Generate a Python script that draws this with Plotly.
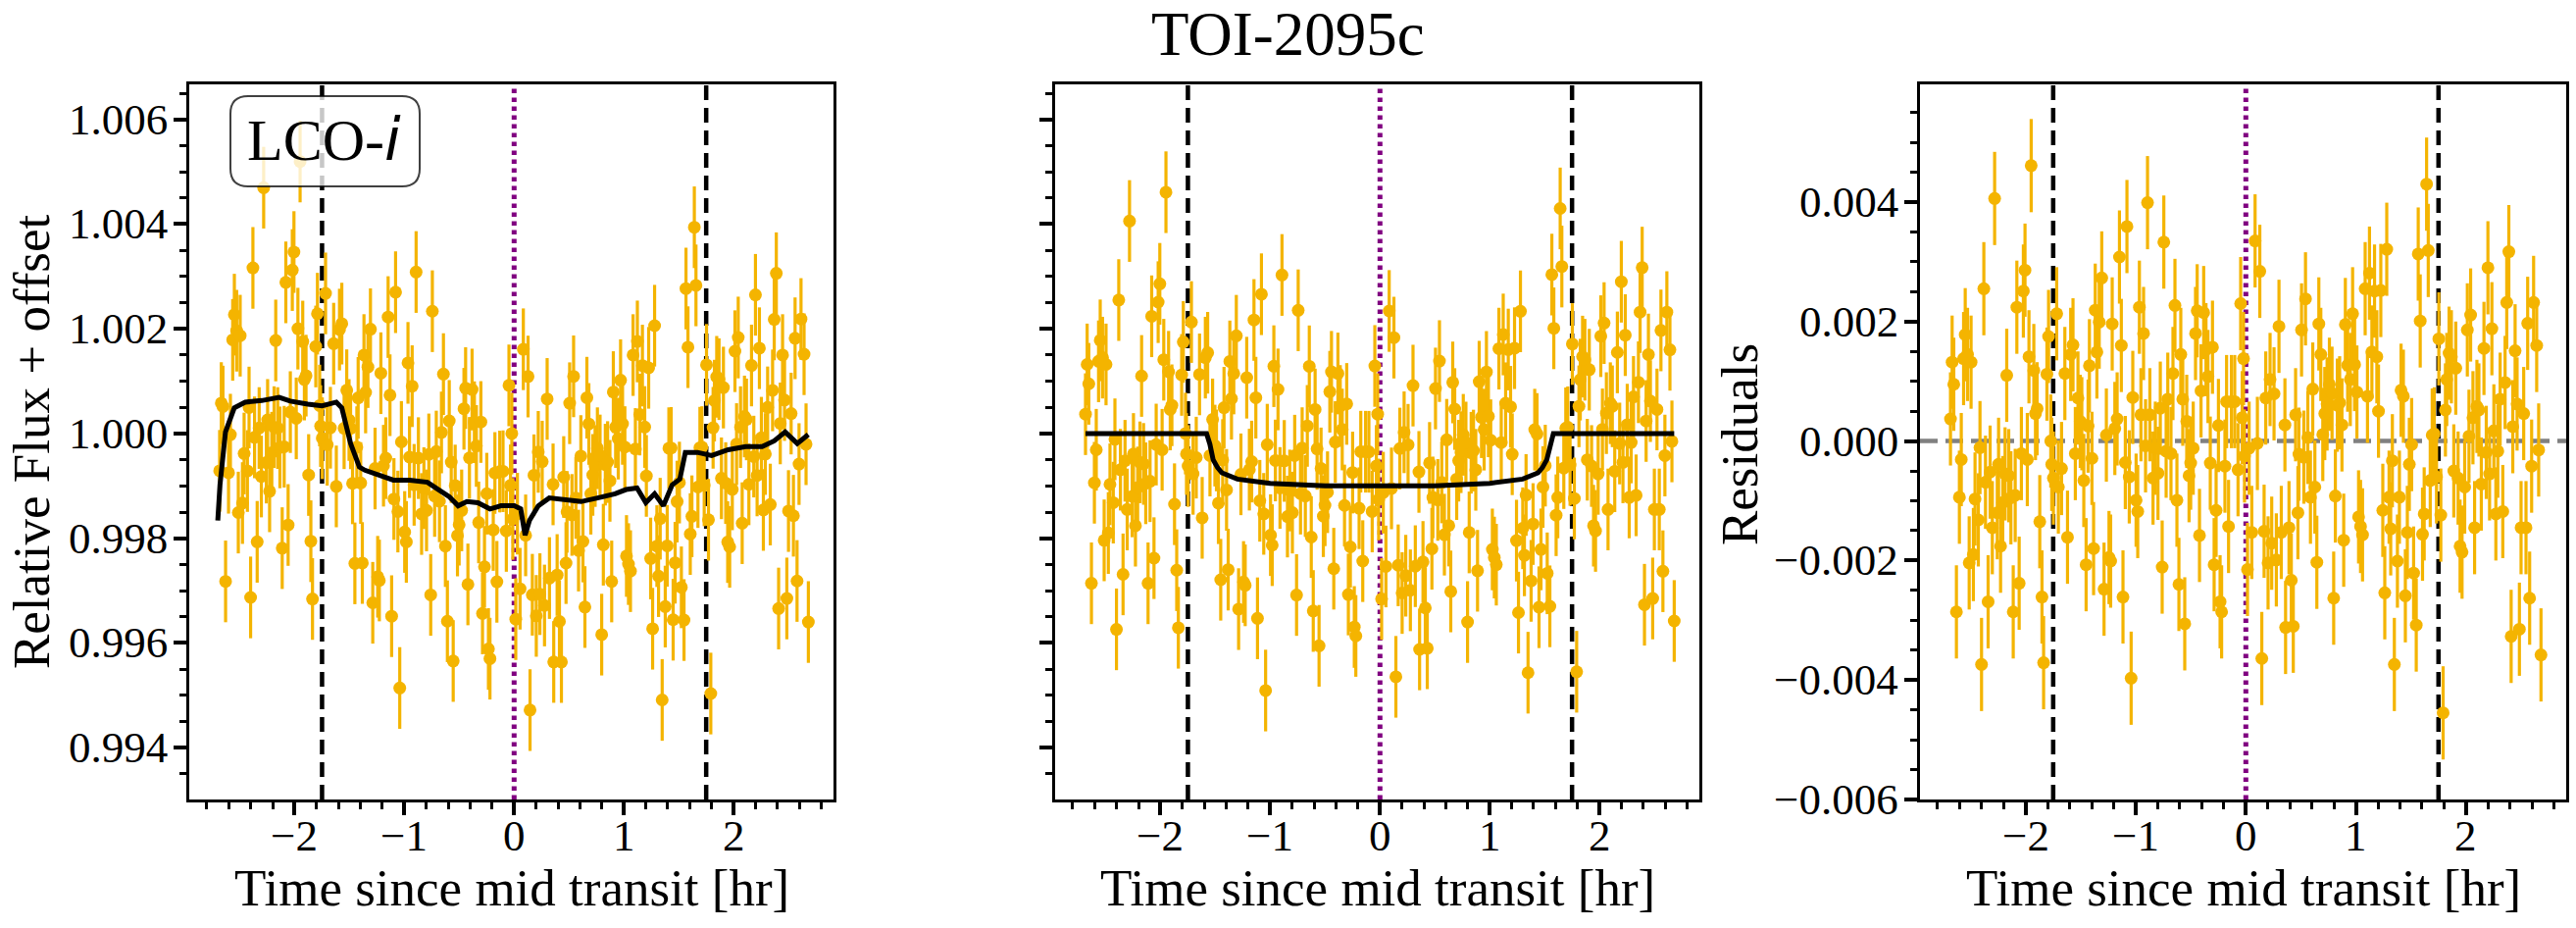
import numpy as np
import plotly.graph_objects as go

# ---- data ----
# time since mid transit [hr]
time_hr = [
    -2.683, -2.668, -2.653, -2.629, -2.602, -2.585, -2.564, -2.549, -2.528, -2.513,
    -2.496, -2.475, -2.460, -2.430, -2.415, -2.401, -2.380, -2.365, -2.341, -2.323,
    -2.303, -2.282, -2.258, -2.246, -2.228, -2.208, -2.187, -2.172, -2.154, -2.134,
    -2.113, -2.095, -2.080, -2.059, -2.039, -2.021, -2.006, -1.985, -1.970, -1.950,
    -1.926, -1.911, -1.896, -1.872, -1.852, -1.837, -1.807, -1.792, -1.772, -1.763,
    -1.748, -1.718, -1.703, -1.674, -1.644, -1.620, -1.591, -1.570, -1.549, -1.525,
    -1.504, -1.490, -1.472, -1.451, -1.433, -1.421, -1.398, -1.383, -1.368, -1.353,
    -1.332, -1.309, -1.288, -1.267, -1.243, -1.228, -1.214, -1.190, -1.169, -1.148,
    -1.131, -1.116, -1.095, -1.080, -1.059, -1.042, -1.027, -0.997, -0.982, -0.967,
    -0.953, -0.929, -0.911, -0.893, -0.872, -0.843, -0.822, -0.798, -0.777, -0.760,
    -0.745, -0.724, -0.709, -0.680, -0.662, -0.644, -0.626, -0.608, -0.591, -0.573,
    -0.555, -0.537, -0.516, -0.501, -0.478, -0.457, -0.442, -0.421, -0.407, -0.383,
    -0.362, -0.344, -0.323, -0.303, -0.288, -0.270, -0.249, -0.234, -0.220, -0.190,
    -0.175, -0.157, -0.131, -0.101, -0.071, -0.047, -0.033, -0.021, -0.012,
    0.015, 0.030, 0.054, 0.084, 0.105, 0.127, 0.145, 0.166, 0.181, 0.202,
    0.220, 0.235, 0.256, 0.277, 0.301, 0.322, 0.355, 0.361, 0.392, 0.413,
    0.431, 0.452, 0.473, 0.482, 0.506, 0.527, 0.542, 0.563, 0.587, 0.608,
    0.627, 0.645, 0.663, 0.681, 0.699, 0.717, 0.738, 0.759, 0.783, 0.798,
    0.813, 0.831, 0.852, 0.873, 0.889, 0.904, 0.925, 0.949, 0.970, 0.988,
    1.009, 1.024, 1.042, 1.060, 1.084, 1.105, 1.123, 1.145, 1.169, 1.190,
    1.205, 1.226, 1.244, 1.262, 1.280, 1.301, 1.316, 1.331, 1.349, 1.377,
    1.395, 1.410, 1.431, 1.449, 1.467, 1.485, 1.506, 1.524, 1.548, 1.566,
    1.584, 1.605, 1.620, 1.642, 1.657, 1.675, 1.693, 1.711, 1.732, 1.753,
    1.771, 1.792, 1.813, 1.825, 1.846, 1.867, 1.889, 1.907, 1.928, 1.946,
    1.964, 1.988, 2.012, 2.027, 2.042, 2.063, 2.078, 2.099, 2.117, 2.139,
    2.163, 2.184, 2.199, 2.214, 2.235, 2.253, 2.271, 2.289, 2.310, 2.334,
    2.355, 2.370, 2.389, 2.410, 2.425, 2.446, 2.464, 2.485, 2.500, 2.524,
    2.545, 2.560, 2.578, 2.596, 2.614, 2.642, 2.660, 2.681,
]

# residuals (data - full model), parts per thousand
resid_ppt = [
    0.37, 1.32, 0.95, -2.86, -0.94, -0.31, 1.38, 1.78, 1.45, -2.04,
    1.32, -1.90, -0.97, -1.32, -0.11, -3.74, 2.55, -0.69, -2.69, -0.52,
    -1.45, 4.06, -1.20, -0.39, -1.76, -1.03, -0.55, 1.10, -0.58, -0.95,
    -2.86, -0.91, 2.24, -2.38, -0.21, 2.51, 2.86, -0.31, 1.41, 4.61,
    1.18, 0.46, 0.54, -1.35, -2.61, -3.71, 1.12, 1.75, 0.00, -0.39,
    -0.62, 2.13, -0.77, -0.46, 1.13, -1.61, 1.45, 1.61, -0.21, 0.72,
    0.33, 0.29, -0.66, -2.07, 0.25, 1.26, -0.29, -1.80, 2.19, 1.49,
    1.99, 2.73, -2.48, 0.10, -1.95, -2.01, 1.96, 0.21, 0.37, 3.08,
    1.60, -2.61, -0.36, 3.59, -0.60, -3.97, 0.73, -0.99, -1.18, 2.24,
    0.44, 1.80, -0.08, 3.99, 0.44, -0.62, -0.12, -0.54, 0.55, -2.11,
    3.33, -0.17, 0.70, -0.21, 1.13, 2.27, -0.99, -2.40, 1.45, 0.70,
    -3.06, 0.33, -0.58, -0.37, -0.12, 1.80, 2.18, -1.58, 0.84, 2.15,
    1.53, 1.08, -0.37, 1.57, -2.07, -1.16, 0.26, -2.69, -2.86, -0.42,
    0.66, -1.43, 0.66, 0.66, -0.48, 2.30, 0.39, 1.38, -0.25,
    -2.15, -0.12, -1.53, 3.35, -0.04, 2.84, -3.64, -1.51, 0.72, -2.04,
    1.03, -1.71, 0.79, -1.99, 1.92, -1.53, 0.27, -3.12, -1.45, -2.33,
    -3.10, 0.44, -1.20, -0.22, 1.86, -0.27, 2.38, 0.06, -0.94, 0.87,
    -0.77, -2.03, 1.96, 1.45, 0.11, 0.46, 0.62, 0.95, 0.80, -2.63,
    -0.92, 0.60, 0.64, 0.27, -1.66, 1.95, 1.27, 1.03, 2.13, 1.28,
    0.82, -1.27, -1.43, -1.57, 2.55, 0.75, 2.81, 1.49, 2.51, 1.41,
    0.50, 2.52, -1.16, -2.54, 3.21, -0.94, -1.47, -0.33, -3.74, -2.01,
    -0.94, 0.85, 0.75, -2.59, -1.53, -0.39, -0.06, -2.21, -3.08, 3.13,
    2.01, -1.56, -1.22, 4.30, 3.19, -0.66, 0.10, 0.12, -0.60, 1.71,
    -1.24, -4.55, 0.52, 1.03, 1.47, 1.41, -0.50, 1.22, -0.62, -1.76,
    -1.86, -0.77, 1.86, 0.08, 2.11, 0.39, -1.45, 0.58, 0.52, -0.72,
    1.55, -0.19, 2.90, -0.55, 1.88, 0.17, -1.22, -0.17, 0.70, -1.18,
    0.98, 2.32, 3.17, -3.27, 0.24, 1.51, 0.62, -3.15, -1.45, 0.46,
    -1.45, 1.97, -2.63, -0.42, 2.32, 1.60, -0.15, -3.58,
]
flux_err = 0.00078

# full model (trend + transit), black line in the left panel
model_t = [-2.70, -2.68, -2.63, -2.55, -2.45, -2.30, -2.14, -2.04, -1.88, -1.75,
           -1.62, -1.57, -1.49, -1.41, -1.36, -1.21, -1.10, -0.95, -0.79, -0.69,
           -0.59, -0.51, -0.43, -0.33, -0.22, -0.12, 0.00, 0.06, 0.10, 0.14,
           0.22, 0.32, 0.45, 0.61, 0.76, 0.92, 1.02, 1.12, 1.20, 1.28,
           1.36, 1.44, 1.51, 1.56, 1.67, 1.80, 1.95, 2.11, 2.26, 2.37,
           2.47, 2.58, 2.68]
model_flux = [0.99834, 0.99902, 1.00003, 1.00049, 1.00060, 1.00063, 1.00069, 1.00062, 1.00056, 1.00053,
              1.00060, 1.00049, 0.99981, 0.99936, 0.99930, 0.99919, 0.99911, 0.99911, 0.99907, 0.99893,
              0.99879, 0.99862, 0.99870, 0.99868, 0.99856, 0.99862, 0.99862, 0.99856, 0.99806, 0.99834,
              0.99862, 0.99877, 0.99873, 0.99870, 0.99877, 0.99885, 0.99893, 0.99896, 0.99868, 0.99885,
              0.99862, 0.99902, 0.99913, 0.99964, 0.99964, 0.99958, 0.99969, 0.99975, 0.99975, 0.99986,
              1.00003, 0.99981, 0.99998]

# transit-only model, middle panel
transit_t = [-2.683, -1.58, -1.55, -1.52, -1.48, -1.44, -1.30, -1.00, -0.50, 0.00,
             0.50, 1.00, 1.30, 1.44, 1.48, 1.52, 1.55, 1.58, 2.681]
transit_flux = [1.0, 1.0, 0.99980, 0.99950, 0.99935, 0.99925, 0.99913, 0.99905, 0.99900, 0.99899,
                0.99900, 0.99905, 0.99913, 0.99925, 0.99935, 0.99950, 0.99980, 1.0, 1.0]

t14_edges = [-1.75, 1.75]
t_mid = 0.0

# tick labels
time_ticks = [-2, -1, 0, 1, 2]
time_tick_text = ["\u22122", "\u22121", "0", "1", "2"]
flux_ticks = [0.994, 0.996, 0.998, 1.000, 1.002, 1.004, 1.006]
flux_tick_text = ["0.994", "0.996", "0.998", "1.000", "1.002", "1.004", "1.006"]
resid_ticks = [-0.006, -0.004, -0.002, 0.000, 0.002, 0.004]
resid_tick_text = ["\u22120.006", "\u22120.004", "\u22120.002", "0.000", "0.002", "0.004"]

t = np.array(time_hr)
resid = np.array(resid_ppt) * 1e-3
flux_raw = resid + np.interp(t, model_t, model_flux)
flux_detr = resid + np.interp(t, transit_t, transit_flux)

# ---- styling ----
W, H = 2627, 946
FONT = "Liberation Serif"
PT = "#f4b400"
TICK_FS = 45
LABEL_FS = 53

def px(x):
    return x / W

def py(y):
    return 1 - y / H

x_domains = [(px(193), px(850)), (px(1076), px(1733)), (px(1958), px(2617))]
y_domain = (py(815), py(86))

fig = go.Figure()

panels = [("x", "y", flux_raw), ("x2", "y2", flux_detr), ("x3", "y3", resid)]
for xa, ya, yv in panels:
    fig.add_trace(go.Scatter(
        x=t, y=yv, xaxis=xa, yaxis=ya, mode="markers",
        marker=dict(size=13, color=PT, line=dict(width=0)),
        error_y=dict(type="constant", value=flux_err, color=PT, thickness=3.2, width=0),
        showlegend=False, hoverinfo="skip",
    ))

fig.add_trace(go.Scatter(x=model_t, y=model_flux, xaxis="x", yaxis="y", mode="lines",
                         line=dict(color="black", width=5), showlegend=False))
fig.add_trace(go.Scatter(x=transit_t, y=transit_flux, xaxis="x2", yaxis="y2", mode="lines",
                         line=dict(color="black", width=5), showlegend=False))

# vertical markers in every panel
for xa, ya, _ in panels:
    for te in t14_edges:
        fig.add_shape(type="line", xref=xa, yref=f"{ya} domain", x0=te, x1=te, y0=0, y1=1,
                      line=dict(color="black", width=4.5, dash="15px,8px"), layer="below")
    fig.add_shape(type="line", xref=xa, yref=f"{ya} domain", x0=t_mid, x1=t_mid, y0=0, y1=1,
                  line=dict(color="purple", width=5, dash="4.5px,4.5px"), layer="below")

fig.add_shape(type="line", xref="x3 domain", yref="y3", x0=0, x1=1, y0=0, y1=0,
              line=dict(color="grey", width=4.5, dash="18px,8px"), layer="below")

# rounded label box
x0, x1, y0, y1 = px(235), px(428), py(190), py(98)
rx, ry = 18 / W, 18 / H
path = (f"M {x0+rx},{y0} L {x1-rx},{y0} Q {x1},{y0} {x1},{y0+ry} "
        f"L {x1},{y1-ry} Q {x1},{y1} {x1-rx},{y1} L {x0+rx},{y1} "
        f"Q {x0},{y1} {x0},{y1-ry} L {x0},{y0+ry} Q {x0},{y0} {x0+rx},{y0} Z")
fig.add_shape(type="path", path=path, xref="paper", yref="paper",
              fillcolor="rgba(255,255,255,0.78)", line=dict(color="rgba(0,0,0,0.75)", width=2),
              layer="above")

common = dict(
    showline=True, linewidth=3, linecolor="black", mirror=True,
    ticks="outside", ticklen=13, tickwidth=3.5, tickcolor="black",
    showgrid=False, zeroline=False, showticklabels=False, automargin=False,
)
xcommon = dict(common, range=[-2.96, 2.91], tickmode="array", tickvals=time_ticks,
               minor=dict(ticks="outside", ticklen=7, tickwidth=3, tickcolor="black",
                          tick0=0, dtick=0.2, showgrid=False))
yflux = dict(common, range=[0.99301, 1.00667], tickmode="array", tickvals=flux_ticks,
             minor=dict(ticks="outside", ticklen=7, tickwidth=3, tickcolor="black",
                        tick0=1.0, dtick=0.0005, showgrid=False))
yres = dict(common, range=[-0.00600, 0.00597], tickmode="array", tickvals=resid_ticks,
            minor=dict(ticks="outside", ticklen=7, tickwidth=3, tickcolor="black",
                       tick0=0, dtick=0.0005, showgrid=False))

fig.update_layout(
    width=W, height=H,
    margin=dict(l=0, r=0, t=0, b=0),
    paper_bgcolor="white", plot_bgcolor="white",
    font=dict(family=FONT, color="black"),
    xaxis=dict(xcommon, domain=x_domains[0], anchor="y"),
    xaxis2=dict(xcommon, domain=x_domains[1], anchor="y2"),
    xaxis3=dict(xcommon, domain=x_domains[2], anchor="y3"),
    yaxis=dict(yflux, domain=y_domain, anchor="x"),
    yaxis2=dict(yflux, domain=y_domain, anchor="x2"),
    yaxis3=dict(yres, domain=y_domain, anchor="x3"),
)

annotations = [
    dict(text="TOI-2095c", xref="paper", yref="paper", x=0.5, y=py(35), font=dict(size=63)),
    dict(text="LCO-<i><span style='font-family:DejaVu Sans'>i</span></i>",
         xref="paper", yref="paper", x=px(331), y=py(142), font=dict(size=60)),
    dict(text="Relative Flux + offset", xref="paper", yref="paper", x=px(32), y=py(451),
         textangle=-90, font=dict(size=LABEL_FS)),
    dict(text="Residuals", xref="paper", yref="paper", x=px(1774), y=py(453),
         textangle=-90, font=dict(size=LABEL_FS)),
]
for xd in x_domains:
    annotations.append(dict(text="Time since mid transit [hr]", xref="paper", yref="paper",
                            x=(xd[0] + xd[1]) / 2, y=py(905), font=dict(size=LABEL_FS)))

# tick labels drawn as text at the axis tick positions
for xa in ["x", "x2", "x3"]:
    for v, s in zip(time_ticks, time_tick_text):
        annotations.append(dict(text=s, xref=xa, yref="paper", x=v, y=py(852),
                                font=dict(size=TICK_FS)))
for v, s in zip(flux_ticks, flux_tick_text):
    annotations.append(dict(text=s, xref="paper", yref="y", x=px(173), y=v,
                            xanchor="right", font=dict(size=TICK_FS)))
for v, s in zip(resid_ticks, resid_tick_text):
    annotations.append(dict(text=s, xref="paper", yref="y3", x=px(1938), y=v,
                            xanchor="right", font=dict(size=TICK_FS)))

for a in annotations:
    a.setdefault("xanchor", "center")
    a.setdefault("yanchor", "middle")
    a.update(showarrow=False)
    a["font"].update(family=FONT, color="black")
fig.update_layout(annotations=annotations)

# the page body has a default 8px margin; drop it so the figure fills the window exactly
fig.write_html("out.html", config={"displayModeBar": False},
               post_script="document.body.style.margin='0px';")
